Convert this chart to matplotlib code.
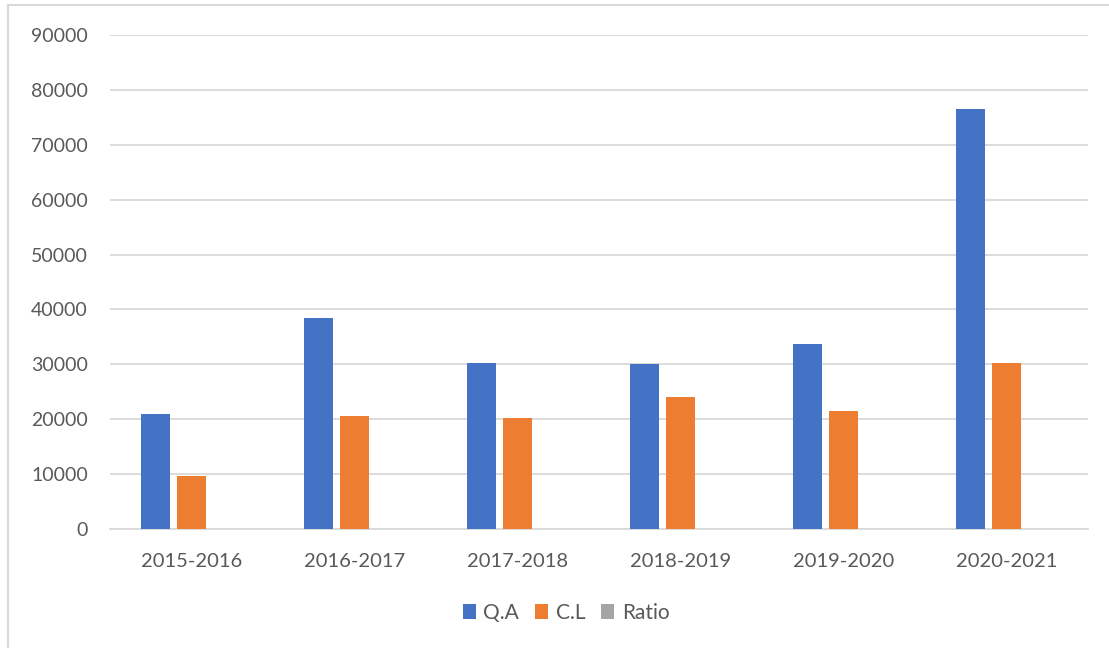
import matplotlib.pyplot as plt
import numpy as np
from matplotlib.patches import Rectangle

years = ["2015-2016", "2016-2017", "2017-2018", "2018-2019", "2019-2020", "2020-2021"]
qa = [20900, 38400, 30300, 30100, 33700, 76500]
cl = [9650, 20600, 20300, 24100, 21500, 30300]
ratio = [2.17, 1.86, 1.49, 1.25, 1.57, 2.52]

BLUE = "#4472C4"
ORANGE = "#ED7D31"
GREY = "#A5A5A5"
TEXT = "#595959"
GRID = "#D9D9D9"

plt.rcParams["font.family"] = ["Lato", "DejaVu Sans"]

W, H = 1109, 648
fig = plt.figure(figsize=(W / 100, H / 100), dpi=100)
ax = fig.add_axes([110 / W, (H - 529) / H, 978 / W, 494 / H])

x = np.arange(len(years))
width = 0.178
step = 0.221
ax.bar(x - step, qa, width, color=BLUE, label="Q.A", zorder=3)
ax.bar(x, cl, width, color=ORANGE, label="C.L", zorder=3)
ax.bar(x + step, ratio, width, color=GREY, label="Ratio", zorder=3)

ax.set_xlim(-0.5, len(years) - 0.5)
ax.set_ylim(0, 90000)
ax.set_yticks(np.arange(0, 90001, 10000))
ax.set_xticks(x)
ax.set_xticklabels(years)
ax.yaxis.grid(True, color=GRID, linewidth=1.3, zorder=0)
for side in ["top", "right", "left"]:
    ax.spines[side].set_visible(False)
ax.spines["bottom"].set_color(GRID)
ax.spines["bottom"].set_linewidth(1.3)
ax.tick_params(axis="both", length=0, labelcolor=TEXT)
ax.tick_params(axis="y", pad=16, labelsize=14)
ax.tick_params(axis="x", pad=17, labelsize=14.5)

fig.legend(
    loc="center",
    bbox_to_anchor=(566 / W, 1 - 613 / H),
    ncol=3,
    frameon=False,
    fontsize=15,
    labelcolor=TEXT,
    handlelength=0.65,
    handleheight=0.7,
    handletextpad=0.35,
    columnspacing=0.75,
)

# chart frame
fig.patches.append(Rectangle((8 / W, -0.05), 1.2, 1 - 5 / H + 0.05, transform=fig.transFigure,
                             fill=False, edgecolor=GRID, linewidth=1.5))

fig.savefig("out.png", dpi=100)
